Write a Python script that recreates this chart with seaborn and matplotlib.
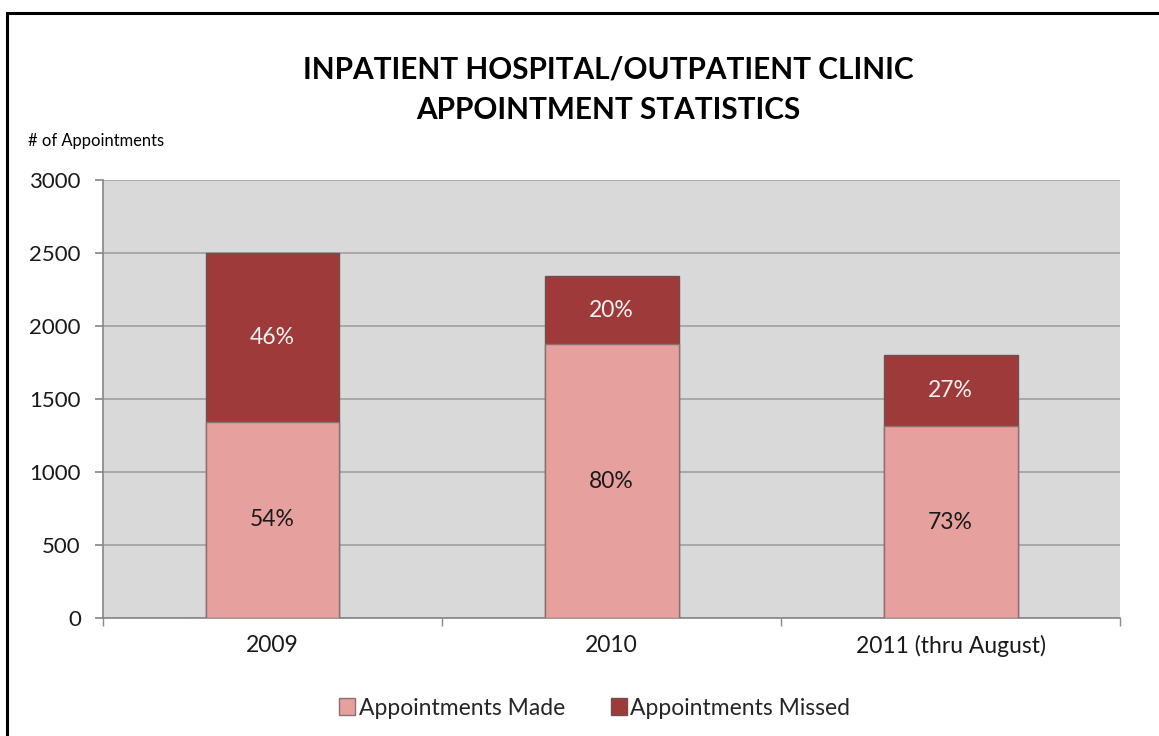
import matplotlib
matplotlib.use("Agg")
import matplotlib.pyplot as plt
import seaborn as sns
import pandas as pd
from matplotlib.patches import Rectangle, Patch

categories = ["2009", "2010", "2011 (thru August)"]
made = [1345, 1875, 1314]
missed = [1155, 465, 486]
made_pct = ["54%", "80%", "73%"]
missed_pct = ["46%", "20%", "27%"]
yticks = [0, 500, 1000, 1500, 2000, 2500, 3000]

PINK = "#e6a09e"
DARK = "#9e3a39"

sns.set_theme(style="white")
plt.rcParams["font.family"] = ["Lato", "DejaVu Sans"]

df = pd.DataFrame({"cat": categories, "made": made,
                   "total": [a + b for a, b in zip(made, missed)]})

fig = plt.figure(figsize=(11.59, 7.36), dpi=100)
ax = fig.add_axes([0.0889, 0.1603, 0.9664 - 0.0889, 0.7554 - 0.1603])
ax.set_facecolor("#d9d9d9")

sns.barplot(data=df, x="cat", y="total", color=DARK, width=0.395,
            saturation=1, edgecolor="#6e5050", linewidth=1.0, ax=ax, zorder=3)
sns.barplot(data=df, x="cat", y="made", color=PINK, width=0.395,
            saturation=1, edgecolor="#8a7070", linewidth=1.0, ax=ax, zorder=3)

ax.set_ylim(0, 3000)
ax.set_xlim(-0.5, 2.5)
ax.set_yticks(yticks)
ax.set_yticklabels([str(v) for v in yticks], fontsize=16, color="#1a1a1a")
ax.yaxis.grid(True, color="#a0a0a0", linewidth=1.2, zorder=0)
ax.set_axisbelow(True)
ax.tick_params(axis="y", length=6, color="#8a8a8a", pad=10, left=True)
ax.set_xticks(range(len(categories)))
ax.set_xticklabels(categories, fontsize=16.5, color="#1a1a1a")
ax.tick_params(axis="x", length=0, pad=12)
ax.set_xticks([-0.5, 0.5, 1.5, 2.5], minor=True)
ax.tick_params(axis="x", which="minor", length=6, color="#8a8a8a", bottom=True)
ax.set_xlabel("")
ax.set_ylabel("")
for s in ["top", "right"]:
    ax.spines[s].set_visible(False)
ax.spines["left"].set_color("#8a8a8a")
ax.spines["bottom"].set_color("#8a8a8a")

for i, (m, ms) in enumerate(zip(made, missed)):
    ax.text(i, m / 2, made_pct[i], ha="center", va="center", fontsize=16.5,
            color="#1a1a1a", zorder=5)
    ax.text(i, m + ms / 2, missed_pct[i], ha="center", va="center",
            fontsize=16.5, color="#f2f2f2", zorder=5)

fig.text(0.5245, 0.905, "INPATIENT HOSPITAL/OUTPATIENT CLINIC", ha="center",
         va="center", fontsize=21.4, fontweight="bold", color="#000000")
fig.text(0.5245, 0.851, "APPOINTMENT STATISTICS", ha="center",
         va="center", fontsize=21.4, fontweight="bold", color="#000000")
fig.text(0.024, 0.809, "# of Appointments", ha="left", va="center",
         fontsize=11.9, color="#000000")

handles = [Patch(facecolor=PINK, edgecolor="#8a7070", label="Appointments Made"),
           Patch(facecolor=DARK, edgecolor="#6e5050", label="Appointments Missed")]
fig.legend(handles=handles, loc="center", bbox_to_anchor=(0.513, 0.038),
           ncol=2, frameon=False, fontsize=16.5, handlelength=0.7,
           handleheight=0.7, handletextpad=0.15, columnspacing=2.0)

fig.patches.append(Rectangle((7 / 1159, -0.05), 1.2, (736 - 13) / 736 + 0.05,
                             transform=fig.transFigure, fill=False,
                             edgecolor="black", linewidth=2.2))

fig.savefig("out.png", dpi=100, facecolor="white")
